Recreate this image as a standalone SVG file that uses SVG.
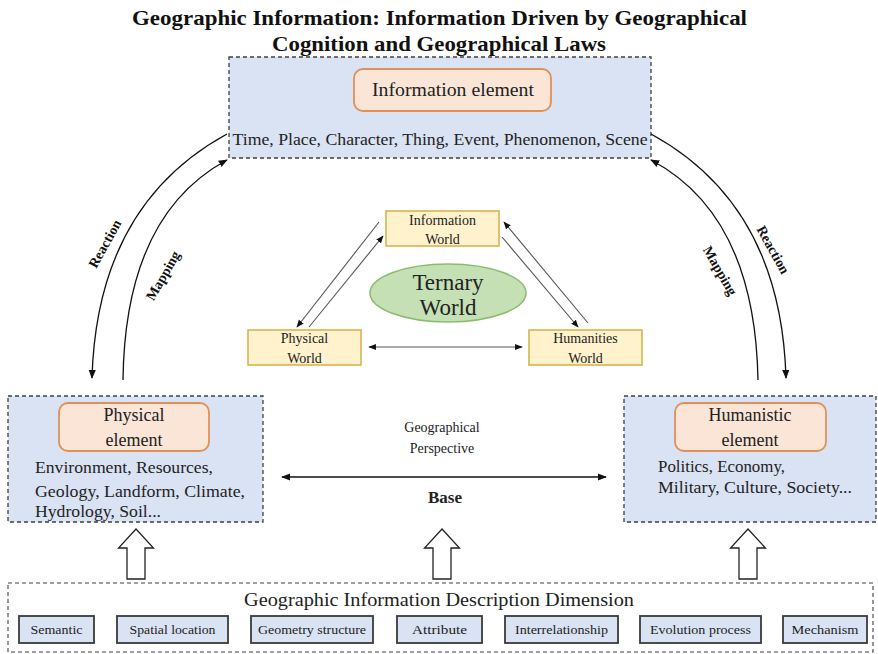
<svg xmlns="http://www.w3.org/2000/svg" width="878" height="654" viewBox="0 0 878 654">
  <style>
    text { font-family: "Liberation Serif", "Times New Roman", serif; fill: #222; }
    .title { font-size: 22px; font-weight: bold; fill: #111; }
    .panel { fill: #dae3f3; stroke: #404040; stroke-width: 1.3; stroke-dasharray: 4 3; }
    .frame { fill: #fff; stroke: #404040; stroke-width: 1.1; stroke-dasharray: 4 3; }
    .elem { fill: #fbe5d6; stroke: #e0905a; stroke-width: 1.8; }
    .world { fill: #fff2cc; stroke: #d8b44e; stroke-width: 1.6; }
    .dim { fill: #dae3f3; stroke: #3a3a3a; stroke-width: 1.8; }
    .arc { fill: none; stroke: #111; stroke-width: 1.3; }
    .thin { fill: none; stroke: #555; stroke-width: 1.1; }
    .hollow { fill: #fff; stroke: #222; stroke-width: 1.3; }
    .lbl { font-size: 14px; font-weight: bold; fill: #111; }
  </style>
  <defs>
    <marker id="tip" viewBox="0 0 10 10" refX="9" refY="5" markerWidth="7" markerHeight="7" orient="auto">
      <path d="M0,1 L10,5 L0,9 Z" fill="#111"/>
    </marker>
    <marker id="tipStart" viewBox="0 0 10 10" refX="1" refY="5" markerWidth="7" markerHeight="7" orient="auto">
      <path d="M10,1 L0,5 L10,9 Z" fill="#111"/>
    </marker>
  </defs>

  <!-- heading -->
  <g id="title">
    <text class="title" x="439.5" y="25" text-anchor="middle" textLength="615" lengthAdjust="spacingAndGlyphs">Geographic Information: Information Driven by Geographical</text>
    <text class="title" x="439" y="51" text-anchor="middle" textLength="334" lengthAdjust="spacingAndGlyphs">Cognition and Geographical Laws</text>
  </g>

  <!-- information element panel -->
  <g id="information-element">
    <rect class="panel" x="229" y="57" width="422" height="101"/>
    <rect class="elem" x="354" y="69" width="197" height="42" rx="9"/>
    <text x="453" y="96" font-size="18" text-anchor="middle" textLength="162" lengthAdjust="spacingAndGlyphs">Information element</text>
    <text x="440" y="145" font-size="16" text-anchor="middle" textLength="415" lengthAdjust="spacingAndGlyphs">Time, Place, Character, Thing, Event, Phenomenon, Scene</text>
  </g>

  <!-- physical element panel -->
  <g id="physical-element">
    <rect class="panel" x="8" y="396" width="255" height="126"/>
    <rect class="elem" x="59" y="403" width="150" height="48" rx="9"/>
    <text x="134" y="421" font-size="18" text-anchor="middle">Physical</text>
    <text x="134" y="446" font-size="18" text-anchor="middle">element</text>
    <text x="35" y="473" font-size="16.5" textLength="178" lengthAdjust="spacingAndGlyphs">Environment, Resources,</text>
    <text x="35" y="497" font-size="16.5" textLength="210" lengthAdjust="spacingAndGlyphs">Geology, Landform, Climate,</text>
    <text x="35" y="517" font-size="16.5" textLength="126" lengthAdjust="spacingAndGlyphs">Hydrology, Soil...</text>
  </g>

  <!-- humanistic element panel -->
  <g id="humanistic-element">
    <rect class="panel" x="624" y="396" width="252" height="126"/>
    <rect class="elem" x="675" y="403" width="151" height="48" rx="9"/>
    <text x="750" y="421" font-size="18" text-anchor="middle">Humanistic</text>
    <text x="750" y="446" font-size="18" text-anchor="middle">element</text>
    <text x="658" y="472" font-size="16.5" textLength="127" lengthAdjust="spacingAndGlyphs">Politics, Economy,</text>
    <text x="658" y="493" font-size="16.5" textLength="194" lengthAdjust="spacingAndGlyphs">Military, Culture, Society...</text>
  </g>

  <!-- ternary world -->
  <g id="information-world">
    <rect class="world" x="386" y="211" width="113" height="35"/>
    <text x="442.5" y="225" font-size="14" text-anchor="middle">Information</text>
    <text x="442.5" y="244" font-size="14" text-anchor="middle">World</text>
  </g>
  <g id="physical-world">
    <rect class="world" x="248" y="330" width="113" height="35"/>
    <text x="304.5" y="343" font-size="14" text-anchor="middle">Physical</text>
    <text x="304.5" y="363" font-size="14" text-anchor="middle">World</text>
  </g>
  <g id="humanities-world">
    <rect class="world" x="529" y="330" width="113" height="35"/>
    <text x="585.5" y="343" font-size="14" text-anchor="middle">Humanities</text>
    <text x="585.5" y="363" font-size="14" text-anchor="middle">World</text>
  </g>
  <g id="ternary-world">
    <ellipse cx="448" cy="293" rx="78" ry="29" fill="#c5e0b4" stroke="#8cbb6e" stroke-width="1.5"/>
    <text x="448" y="290" font-size="23" text-anchor="middle">Ternary</text>
    <text x="448" y="315" font-size="23" text-anchor="middle">World</text>
  </g>

  <!-- geographical perspective / base -->
  <g id="base">
    <text x="442" y="432" font-size="14" text-anchor="middle">Geographical</text>
    <text x="442" y="453" font-size="14" text-anchor="middle">Perspective</text>
    <text x="445" y="503" font-size="17" font-weight="bold" text-anchor="middle" fill="#111">Base</text>
  </g>

  <!-- description dimension frame -->
  <g id="description-dimension">
    <rect class="frame" x="8" y="583" width="865" height="69"/>
    <text x="439" y="606" font-size="18" text-anchor="middle" textLength="390" lengthAdjust="spacingAndGlyphs">Geographic Information Description Dimension</text>
  </g>
  <g id="dim-semantic">
    <rect class="dim" x="19" y="616" width="75" height="27"/>
    <text x="56.5" y="634" font-size="13.5" text-anchor="middle" textLength="52" lengthAdjust="spacingAndGlyphs">Semantic</text>
  </g>
  <g id="dim-spatial-location">
    <rect class="dim" x="117" y="616" width="111" height="27"/>
    <text x="172.5" y="634" font-size="13.5" text-anchor="middle" textLength="86" lengthAdjust="spacingAndGlyphs">Spatial location</text>
  </g>
  <g id="dim-geometry-structure">
    <rect class="dim" x="251" y="616" width="122" height="27"/>
    <text x="312" y="634" font-size="13.5" text-anchor="middle" textLength="108" lengthAdjust="spacingAndGlyphs">Geometry structure</text>
  </g>
  <g id="dim-attribute">
    <rect class="dim" x="397" y="616" width="85" height="27"/>
    <text x="439.5" y="634" font-size="13.5" text-anchor="middle" textLength="55" lengthAdjust="spacingAndGlyphs">Attribute</text>
  </g>
  <g id="dim-interrelationship">
    <rect class="dim" x="505" y="616" width="113" height="27"/>
    <text x="561.5" y="634" font-size="13.5" text-anchor="middle" textLength="93" lengthAdjust="spacingAndGlyphs">Interrelationship</text>
  </g>
  <g id="dim-evolution-process">
    <rect class="dim" x="640" y="616" width="121" height="27"/>
    <text x="700.5" y="634" font-size="13.5" text-anchor="middle" textLength="101" lengthAdjust="spacingAndGlyphs">Evolution process</text>
  </g>
  <g id="dim-mechanism">
    <rect class="dim" x="783" y="616" width="84" height="27"/>
    <text x="825" y="634" font-size="13.5" text-anchor="middle" textLength="67" lengthAdjust="spacingAndGlyphs">Mechanism</text>
  </g>

  <!-- connectors -->
  <g id="connectors">
    <!-- reaction / mapping arcs -->
    <path class="arc" d="M227,134 Q97,205 92,378" marker-end="url(#tip)"/>
    <path class="arc" d="M123,380 Q125,215 227,160" marker-end="url(#tip)"/>
    <path class="arc" d="M651,134 Q781,205 786,378" marker-end="url(#tip)"/>
    <path class="arc" d="M758,380 Q755,215 651,160" marker-end="url(#tip)"/>

    <!-- ternary world links -->
    <line class="thin" x1="379" y1="222" x2="297" y2="327" marker-end="url(#tip)"/>
    <line class="thin" x1="309" y1="327" x2="383" y2="236" marker-end="url(#tip)"/>
    <line class="thin" x1="502" y1="237" x2="578" y2="327" marker-end="url(#tip)"/>
    <line class="thin" x1="588" y1="323" x2="504" y2="222" marker-end="url(#tip)"/>
    <line class="thin" x1="369" y1="347" x2="522" y2="347" marker-start="url(#tipStart)" marker-end="url(#tip)"/>

    <!-- base double arrow -->
    <line class="arc" x1="282" y1="477" x2="606" y2="477" marker-start="url(#tipStart)" marker-end="url(#tip)"/>

    <!-- hollow upward arrows -->
    <polygon class="hollow" points="136,529 153.5,548 145,548 145,579 127,579 127,548 118.5,548"/>
    <polygon class="hollow" points="442,529 459.5,548 451,548 451,579 433,579 433,548 424.5,548"/>
    <polygon class="hollow" points="748,529 765.5,548 757,548 757,579 739,579 739,548 730.5,548"/>
  </g>

  <!-- arc labels -->
  <g id="arc-labels">
    <text class="lbl" text-anchor="middle" transform="translate(109,246) rotate(-61)">Reaction</text>
    <text class="lbl" text-anchor="middle" transform="translate(167,278) rotate(-60)">Mapping</text>
    <text class="lbl" text-anchor="middle" transform="translate(716,273) rotate(60)">Mapping</text>
    <text class="lbl" text-anchor="middle" transform="translate(769,252) rotate(61)">Reaction</text>
  </g>
</svg>
